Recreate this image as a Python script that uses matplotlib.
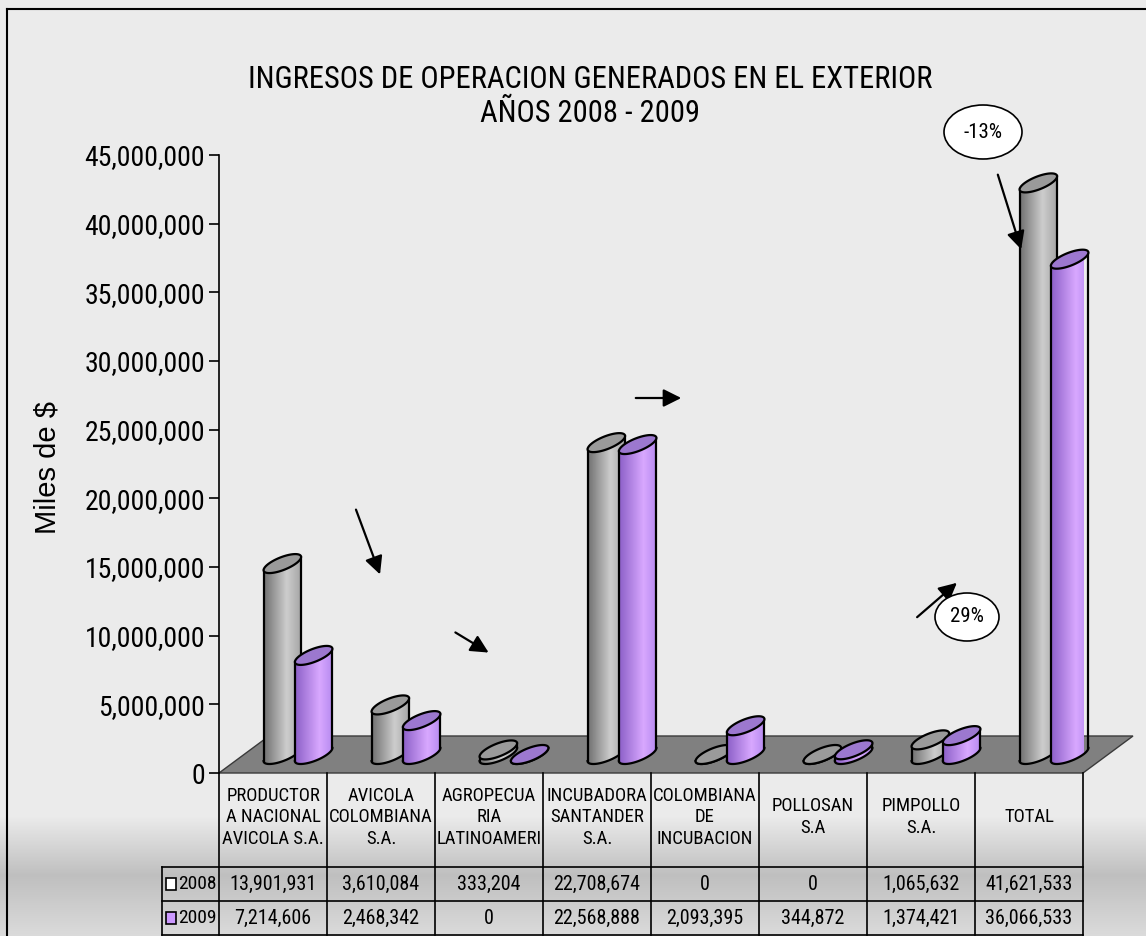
import numpy as np
import matplotlib
matplotlib.use('Agg')
import matplotlib.pyplot as plt
from matplotlib import font_manager as fm
from matplotlib.patches import Polygon, Ellipse, Rectangle, FancyArrowPatch
from matplotlib.colors import LinearSegmentedColormap
from matplotlib.ticker import FuncFormatter

# --- data -------------------------------------------------------------
categories = ['PRODUCTOR\nA NACIONAL\nAVICOLA S.A.', 'AVICOLA\nCOLOMBIANA\nS.A.',
              'AGROPECUA\nRIA\nLATINOAMERI', 'INCUBADORA\nSANTANDER\nS.A.',
              'COLOMBIANA\nDE\nINCUBACION', 'POLLOSAN\nS.A', 'PIMPOLLO\nS.A.', 'TOTAL']
years = ['2008', '2009']
values_2008 = [13901931, 3610084, 333204, 22708674, 0, 0, 1065632, 41621533]
values_2009 = [7214606, 2468342, 0, 22568888, 2093395, 344872, 1374421, 36066533]
yticks = list(range(0, 45000001, 5000000))
notes = ['-13%', '29%']


# the original uses Arial Narrow; take a condensed face if one is installed
def pick_narrow():
    names = {f.name for f in fm.fontManager.ttflist}
    for nm in ['Liberation Sans Narrow', 'Arial Narrow', 'Roboto Condensed',
               'Open Sans Condensed', 'DejaVu Sans Condensed', 'Noto Sans Condensed']:
        if nm in names:
            return nm, 'normal', 1.0
    for f in fm.fontManager.ttflist:
        if 'condensed' in str(f.stretch).lower() and f.style == 'normal' and f.weight in (400, 'normal', 'regular'):
            return f.name, f.stretch, 1.0
    return 'Liberation Sans', 'normal', 0.82


FAM, STRETCH, SC = pick_narrow()
plt.rcParams['font.family'] = [FAM, 'DejaVu Sans']
plt.rcParams['font.stretch'] = STRETCH

W, H = 1146, 936
fig = plt.figure(figsize=(W / 100, H / 100), dpi=100)
fig.patch.set_facecolor('#ececec')

# background with the grey band at the bottom
bg = fig.add_axes([0, 0, 1, 1], zorder=0)
shade = np.interp(np.arange(H), [0, 815, 875, 936], [0.925, 0.925, 0.75, 0.86])
bg.imshow(np.repeat(shade[:, None, None], 3, axis=2), aspect='auto',
          extent=[0, 1, 0, 1], interpolation='bilinear')
bg.axis('off')
fig.add_artist(plt.Line2D([7 / W, 7 / W], [0, 1 - 9 / H], color='black', lw=1.5,
                          transform=fig.transFigure))
fig.add_artist(plt.Line2D([7 / W, 1], [1 - 9 / H, 1 - 9 / H], color='black', lw=1.5,
                          transform=fig.transFigure))

# --- main axes ----------------------------------------------------------
ax = fig.add_axes([219 / W, (H - 773) / H, (1083 - 219) / W, (773 - 155) / H], zorder=2)
ax.patch.set_alpha(0)
ax.set_autoscale_on(False)
n = len(categories)
ax.set_xlim(0, n)
ax.set_ylim(0, 45000000)
ax.set_yticks(yticks)
ax.yaxis.set_major_formatter(FuncFormatter(lambda v, p: f'{int(v):,}'))
ax.set_xticks([])
for s in ['top', 'right', 'bottom']:
    ax.spines[s].set_visible(False)
ax.spines['left'].set_linewidth(1.2)
ax.tick_params(axis='y', direction='out', length=7, width=1.2, labelsize=20 * SC, pad=3)

ppx = ax.bbox.width / n              # pixels per category unit
ppy = ax.bbox.height / 45000000      # pixels per value unit

# floor
fdx, fdy = 50 / ppx, 37 / ppy
ax.add_patch(Polygon([(0, 0), (n, 0), (n + fdx, fdy), (fdx, fdy)], closed=True,
                     facecolor='#808080', edgecolor='#3a3a3a', lw=1, clip_on=False, zorder=1))

R, A, B = 13.5, 13.0, 9.5          # cylinder cross-section (px)
half_w = np.hypot(R, A)
tL = np.pi + np.arctan(A / R)
tR = np.arctan(A / R)


def ell(cx, cy, t):
    return cx + (R * np.cos(t) + A * np.sin(t)) / ppx, cy + (B * np.sin(t)) / ppy


cmaps = {
    '2008': LinearSegmentedColormap.from_list('g', [(0, '#727272'), (0.6, '#cdcdcd'), (1, '#a4a4a4')]),
    '2009': LinearSegmentedColormap.from_list('p', [(0, '#8d60c8'), (0.65, '#d8a8ff'), (1, '#b68af0')]),
}
tops = {'2008': '#9a9a9a', '2009': '#9c78cf'}
grad = np.linspace(0, 1, 64)

z = 3
for i in range(n):
    for k, (yr, vals) in enumerate(zip(years, [values_2008, values_2009])):
        v = vals[i]
        cx = i + 0.5 + (-0.145 if k == 0 else 0.145) + 25 / ppx
        base = 18.5 / ppy
        top = v + base
        t1 = np.linspace(tL, tR + 2 * np.pi, 60)
        t2 = np.linspace(tR, tL, 60)
        bx, by = ell(cx, base, t1)
        ux, uy = ell(cx, top, t2)
        body = Polygon(np.column_stack([np.r_[bx, ux], np.r_[by, uy]]), closed=True,
                       transform=ax.transData, facecolor='none', edgecolor='none')
        img = ax.imshow(cmaps[yr](grad)[None, :, :3], aspect='auto', interpolation='bilinear',
                        extent=[cx - half_w / ppx, cx + half_w / ppx, base - B / ppy, top + B / ppy],
                        zorder=z)
        img.set_clip_path(body)
        img.set_clip_box(None)
        ax.plot(bx, by, color='black', lw=1.6, zorder=z + 0.1, clip_on=False)
        ax.plot([bx[0], ux[-1]], [by[0], uy[-1]], color='black', lw=1.6, zorder=z + 0.1, clip_on=False)
        ax.plot([bx[-1], ux[0]], [by[-1], uy[0]], color='black', lw=1.6, zorder=z + 0.1, clip_on=False)
        ex, ey = ell(cx, top, np.linspace(0, 2 * np.pi, 120))
        ax.add_patch(Polygon(np.column_stack([ex, ey]), closed=True, facecolor=tops[yr],
                             edgecolor='black', lw=1.6, zorder=z + 0.2, clip_on=False))
        z += 1

ax.set_xlim(0, n)
ax.set_ylim(0, 45000000)

# axis label and title
fig.text(48 / W, 1 - 467 / H, 'Miles de $', rotation=90, ha='center', va='center',
         fontsize=21, family=['Liberation Sans', 'DejaVu Sans'], stretch='normal')
fig.text(590 / W, 1 - 80 / H, 'INGRESOS DE OPERACION GENERADOS EN EL EXTERIOR',
         ha='center', va='center', fontsize=22 * SC)
fig.text(590 / W, 1 - 113 / H, 'AÑOS 2008 - 2009', ha='center', va='center', fontsize=22 * SC)

# --- data table -------------------------------------------------------------
tab = fig.add_axes([162 / W, (H - 935) / H, (1083 - 162) / W, (935 - 773) / H], zorder=3)
tab.patch.set_alpha(0)
tab.axis('off')
x0 = -57 / 108
tab.set_xlim(x0, n)
tab.set_ylim(935, 773)
lk = dict(color='black', lw=1.2, clip_on=False)
for i in range(n + 1):
    tab.plot([i, i], [773, 935], **lk)
tab.plot([x0, x0], [867, 935], **lk)
for yy in (867, 901, 935):
    tab.plot([x0, n], [yy, yy], **lk)
for i, cat in enumerate(categories):
    tab.text(i + 0.5, 817, cat, ha='center', va='center', fontsize=13.5 * SC, linespacing=1.25)
key_colors = ['white', '#cc99ff']
for r, (yr, vals) in enumerate(zip(years, [values_2008, values_2009])):
    yc = 884 + 34 * r
    tab.add_patch(Rectangle((x0 + 4 / 108, yc - 6), 10 / 108, 12, facecolor=key_colors[r],
                            edgecolor='black', lw=1.2))
    tab.text(x0 + 16 / 108, yc, yr, ha='left', va='center', fontsize=14 * SC)
    for i, v in enumerate(vals):
        tab.text(i + 0.5, yc, f'{v:,}', ha='center', va='center', fontsize=14.5 * SC)

# --- annotations (arrows and call-outs) --------------------------------------
arrows = [((355, 507), (381, 577)), ((453, 631), (491, 654)), ((633, 398), (684, 398)),
          ((915, 619), (959, 581)), ((997, 172), (1022, 252))]
for (sx, sy), (ex_, ey_) in arrows:
    fig.add_artist(FancyArrowPatch(
        (sx / W, 1 - sy / H), (ex_ / W, 1 - ey_ / H), transform=fig.transFigure,
        arrowstyle='-|>,head_length=0.9,head_width=0.45', mutation_scale=12,
        color='black', lw=1.6, zorder=10))
for txt, (ecx, ecy, ew, eh) in zip(notes, [(983, 132, 78, 54), (967, 617, 64, 48)]):
    fig.add_artist(Ellipse((ecx / W, 1 - ecy / H), ew / W, eh / H, transform=fig.transFigure,
                           facecolor='white', edgecolor='black', lw=1.2, zorder=11))
    fig.text(ecx / W, 1 - ecy / H, txt, ha='center', va='center', fontsize=15 * SC, zorder=12)

fig.savefig('out.png', dpi=100)
